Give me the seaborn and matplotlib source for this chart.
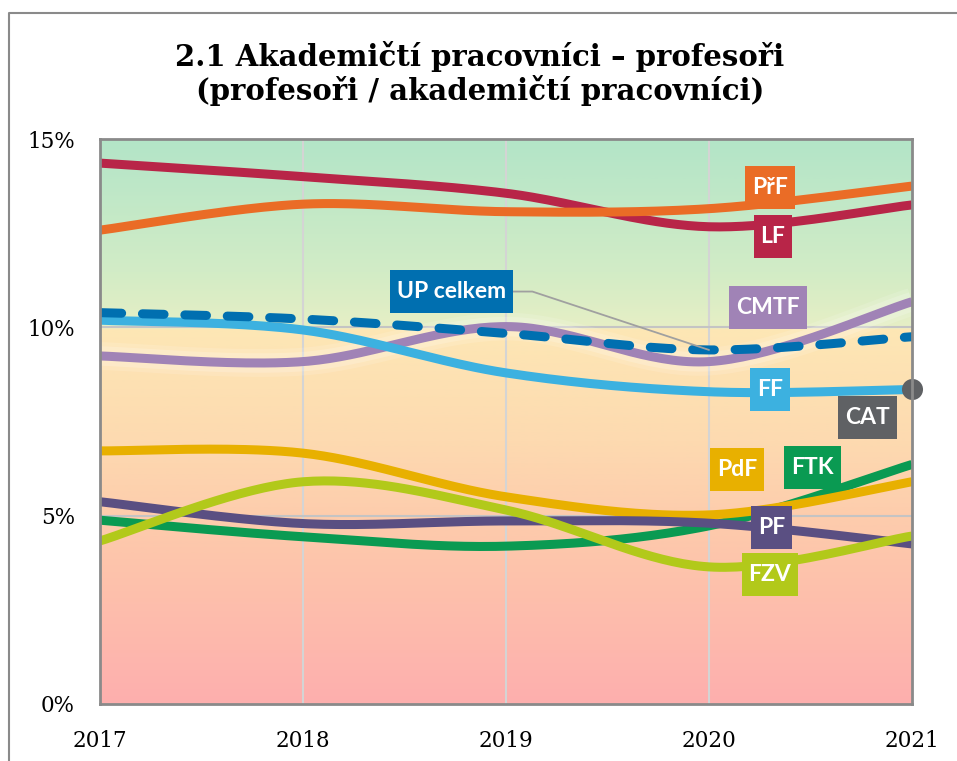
import numpy as np
import pandas as pd
import matplotlib
matplotlib.use("Agg")
import matplotlib.pyplot as plt
from matplotlib.colors import LinearSegmentedColormap
from matplotlib.lines import Line2D
from matplotlib.path import Path
import seaborn as sns

# ---------------- data ----------------
years = [2017, 2018, 2019, 2020, 2021]
series_names = ["FTK", "FZV", "PdF", "PF", "PřF", "LF", "CMTF", "FF", "UP celkem"]
ftk = [4.88, 4.44, 4.19, 4.73, 6.36]
fzv = [4.33, 5.90, 5.15, 3.64, 4.46]
pdf = [6.72, 6.66, 5.50, 5.02, 5.90]
pf = [5.37, 4.79, 4.86, 4.80, 4.25]
prf = [12.58, 13.27, 13.07, 13.15, 13.75]
lf = [14.36, 14.00, 13.56, 12.67, 13.25]
cmtf = [9.24, 9.09, 10.02, 9.09, 10.68]
ff = [10.19, 9.93, 8.79, 8.29, 8.35]
up_total = [10.39, 10.22, 9.84, 9.40, 9.75]
cat_year = [2021]
cat = [8.36]

y_ticks = [0, 5, 10, 15]
y_tick_labels = ["0%", "5%", "10%", "15%"]
title_lines = ["2.1 Akademičtí pracovníci – profesoři",
               "(profesoři / akademičtí pracovníci)"]

colors = {
    "FTK": "#0a9a52", "FZV": "#b2c91a", "PdF": "#e8b000", "PF": "#5a4f82",
    "PřF": "#ea6c26", "LF": "#b82548", "CMTF": "#a083b6", "FF": "#3cb1e0",
    "UP celkem": "#006fb0", "CAT": "#5f6164",
}
values = {"FTK": ftk, "FZV": fzv, "PdF": pdf, "PF": pf, "PřF": prf,
          "LF": lf, "CMTF": cmtf, "FF": ff, "UP celkem": up_total}

# label positions (data coords)
label_pos = {
    "PřF": (2020.30, 13.71), "LF": (2020.315, 12.41), "UP celkem": (2018.73, 10.95),
    "CMTF": (2020.29, 10.53), "FF": (2020.30, 8.36), "CAT": (2020.78, 7.61),
    "PdF": (2020.14, 6.23), "FTK": (2020.51, 6.29), "PF": (2020.31, 4.69),
    "FZV": (2020.30, 3.45),
}


def smooth(xs, ys, n=40):
    """Excel-like smoothed curve (Bezier through the data points)."""
    P = np.column_stack([np.asarray(xs, float), np.asarray(ys, float)])
    E = np.vstack([P[0], P, P[-1]])
    t = np.linspace(0, 1, n)[:, None]
    out = []
    for i in range(len(P) - 1):
        p0, p1, p2, p3 = E[i], E[i + 1], E[i + 2], E[i + 3]
        c1 = p1 + (p2 - p0) / 6
        c2 = p2 - (p3 - p1) / 6
        seg = (1 - t) ** 3 * p1 + 3 * (1 - t) ** 2 * t * c1 + 3 * (1 - t) * t ** 2 * c2 + t ** 3 * p2
        out.append(seg if i == 0 else seg[1:])
    S = np.vstack(out)
    return S[:, 0], S[:, 1]


def label_box(x0, y0, width, height, mutation_size):
    px = 0.30 * mutation_size
    py = 0.48 * mutation_size
    x0, y0 = x0 - px, y0 - py
    x1, y1 = x0 + width + 2 * px, y0 + height + 2 * py
    return Path([(x0, y0), (x1, y0), (x1, y1), (x0, y1), (x0, y0)],
                closed=True)


sns.set_theme(style="white")
plt.rcParams["font.family"] = ["DejaVu Serif"]
plt.rcParams["text.color"] = "black"

W, H = 957, 761
fig = plt.figure(figsize=(W / 100, H / 100), dpi=100)
ax = fig.add_axes([100 / W, 1 - 704 / H, (912 - 100) / W, (704 - 139) / H])

# background gradient
stops = [(0.0, "#feafae"), (4 / 15, "#fdc6ab"), (7 / 15, "#fddab0"),
         (9.98 / 15, "#fde7b5"), (10.02 / 15, "#e6efc5"), (11.5 / 15, "#d2ecc6"),
         (1.0, "#b3e5c8")]
cmap = LinearSegmentedColormap.from_list("bg", stops)
grad = np.linspace(0, 1, 600)[:, None]
ax.imshow(grad, extent=[2017, 2021, 0, 15], aspect="auto", origin="lower",
          cmap=cmap, zorder=0, interpolation="bilinear")

for yr in years[1:-1]:
    ax.axvline(yr, color="#d4d4d4", lw=1.5, zorder=1)
for yv in [5, 10]:
    ax.axhline(yv, color="#c4c4c4", lw=1.5, zorder=1)

lw = 6.5
# glow under CMTF
gx, gy = smooth(years, cmtf)
for w, a in [(20, 0.12), (14, 0.18)]:
    ax.plot(gx, gy, color="white", lw=w, alpha=a, solid_capstyle="butt", zorder=2)

order = ["FTK", "PdF", "PF", "FZV", "LF", "PřF", "CMTF", "FF"]
for i, name in enumerate(order):
    sx, sy = smooth(years, values[name])
    df = pd.DataFrame({"year": sx, "value": sy})
    sns.lineplot(data=df, x="year", y="value", sort=False, estimator=None,
                 color=colors[name], lw=lw, ax=ax, zorder=3 + i * 0.1)
    ax.lines[-1].set_solid_capstyle("butt")

sx, sy = smooth(years, up_total)
df = pd.DataFrame({"year": sx, "value": sy})
sns.lineplot(data=df, x="year", y="value", sort=False, estimator=None,
             color=colors["UP celkem"], lw=lw, ax=ax, zorder=5)
ln = ax.lines[-1]
ln.set_dashes((2.4, 2.3))
ln.set_dash_capstyle("round")

sns.scatterplot(x=cat_year, y=cat, color=colors["CAT"], s=230, ax=ax,
                zorder=6, linewidth=0, clip_on=False)

# leader line for UP celkem
lx, ly = label_pos["UP celkem"]
ax.plot([lx, 2019.13, years[3]], [ly, ly, up_total[3]], color="#a0a0a0",
        lw=1.3, zorder=6.5)

for name, (x, y) in label_pos.items():
    ax.text(x, y, name, ha="center", va="center", color="white",
            fontsize=16.5, fontweight="bold", family=["Lato", "DejaVu Sans"],
            zorder=7,
            bbox=dict(boxstyle=label_box, fc=colors[name], ec="none"))

ax.set_xlim(2017, 2021)
ax.set_ylim(0, 15)
ax.set_xticks(years)
ax.set_xticklabels([str(y) for y in years], fontsize=15.5)
ax.set_yticks(y_ticks)
ax.set_yticklabels(y_tick_labels, fontsize=15.5)
ax.tick_params(axis="both", length=0, colors="black")
ax.tick_params(axis="x", pad=18.5)
ax.tick_params(axis="y", pad=18)
ax.set_xlabel("")
ax.set_ylabel("")
for sp in ax.spines.values():
    sp.set_visible(True)
    sp.set_color("#8a8a8a")
    sp.set_linewidth(2)
    sp.set_zorder(8)

fig.text(480 / W, 1 - 56 / H, title_lines[0], ha="center", va="center",
         fontsize=21, fontweight="bold", color="black")
fig.text(480 / W, 1 - 90 / H, title_lines[1], ha="center", va="center",
         fontsize=21, fontweight="bold", color="black")

# figure frame
fig.add_artist(Line2D([9 / W, 9 / W, 1.0], [0, 1 - 13 / H, 1 - 13 / H],
                      transform=fig.transFigure, color="#8a8a8a", lw=1.5))

fig.savefig("out.png", dpi=100)
